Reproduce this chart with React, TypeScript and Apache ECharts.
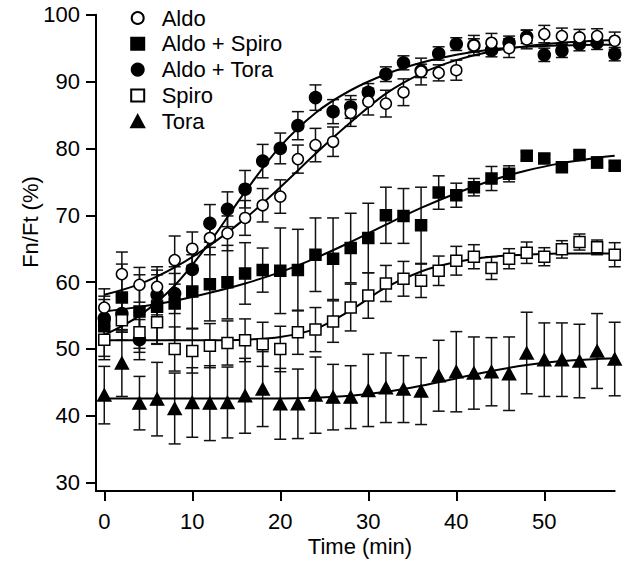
import React, { useEffect, useRef } from "react";
import * as echarts from "echarts";

const FONT = "'Liberation Sans', Arial, Helvetica, sans-serif";

// Time points (min)
const times = [0, 2, 4, 6, 8, 10, 12, 14, 16, 18, 20, 22, 24, 26, 28, 30, 32, 34, 36, 38, 40, 42, 44, 46, 48, 50, 52, 54, 56, 58];

// Mean values (Fn/Ft %)
const aldo = [56.2, 61.2, 59.6, 59.3, 63.3, 65.0, 66.6, 67.3, 69.6, 71.5, 72.8, 78.4, 80.5, 81.0, 85.3, 87.0, 86.7, 88.4, 91.5, 91.3, 91.7, 95.4, 95.8, 95.0, 96.3, 97.1, 96.8, 96.6, 96.8, 96.1];
const aldoSpiro = [53.4, 57.7, 55.6, 56.3, 56.8, 58.6, 59.7, 60.0, 61.3, 61.8, 61.7, 61.8, 64.1, 63.5, 65.1, 66.6, 70.0, 69.9, 68.5, 73.4, 73.0, 74.2, 75.5, 76.2, 78.9, 78.5, 77.2, 79.0, 77.9, 77.4];
const aldoTora = [54.6, 55.3, 51.4, 58.1, 58.3, 61.9, 68.8, 70.9, 73.9, 78.1, 80.0, 83.4, 87.6, 85.5, 86.2, 88.4, 91.1, 92.8, 91.6, 94.2, 95.6, 95.4, 94.7, 95.8, 96.7, 94.0, 94.6, 95.6, 95.8, 94.1];
const spiro = [51.4, 54.3, 52.5, 54.0, 50.0, 49.7, 50.5, 50.9, 51.3, 50.7, 50.0, 52.5, 52.9, 54.1, 56.2, 58.0, 59.8, 60.5, 60.2, 61.7, 63.2, 63.8, 62.1, 63.5, 64.4, 63.8, 64.9, 66.0, 65.2, 64.1];
const tora = [43.1, 47.9, 41.9, 42.5, 41.1, 42.0, 41.9, 42.0, 43.0, 44.0, 41.8, 41.8, 43.1, 42.8, 42.8, 43.8, 44.2, 44.0, 43.7, 46.0, 46.6, 46.4, 46.6, 46.3, 49.4, 48.4, 48.4, 48.2, 49.7, 48.5];

// Error magnitudes (±)
const aldoErr = [2.8, 3.3, 2.6, 3.0, 3.6, 2.5, 2.5, 2.6, 2.6, 2.5, 2.5, 2.1, 2.5, 2.2, 2.0, 2.0, 2.0, 2.0, 2.0, 1.2, 1.5, 1.5, 1.4, 1.4, 1.4, 1.3, 1.2, 1.2, 1.1, 1.3];
const aldoSpiroErr = [4.5, 5.0, 5.5, 5.5, 5.5, 5.5, 5.5, 5.5, 4.6, 3.3, 6.4, 6.1, 5.5, 6.1, 5.2, 5.2, 4.2, 4.1, 5.7, 2.5, 1.8, 1.3, 1.8, 1.2, 0.6, 0.6, 0.6, 0.5, 0.8, 0.5];
const aldoToraErr = [2.8, 2.8, 3.0, 3.0, 3.0, 2.8, 2.8, 2.6, 2.8, 2.5, 2.3, 2.1, 1.9, 1.8, 1.7, 1.3, 1.1, 1.05, 1.0, 1.0, 0.95, 1.0, 1.0, 1.0, 1.0, 1.0, 1.0, 1.0, 1.0, 1.0];
const spiroErr = [3.0, 3.0, 3.0, 3.3, 3.3, 3.3, 3.3, 3.3, 3.2, 3.3, 3.4, 3.3, 3.3, 3.1, 3.5, 3.4, 2.7, 2.6, 2.5, 2.2, 2.15, 1.8, 1.7, 1.5, 1.6, 1.35, 1.3, 1.2, 1.1, 1.8];
const toraErr = [4.3, 5.0, 4.0, 5.5, 5.3, 5.2, 5.6, 5.3, 5.6, 5.6, 5.3, 5.2, 5.7, 4.9, 4.7, 5.4, 5.2, 5.0, 5.0, 5.3, 6.0, 5.4, 5.1, 5.5, 6.1, 5.5, 5.5, 5.5, 5.6, 5.5];

// Fitted curves
const fitTimes = [0, 4, 8, 12, 16, 20, 24, 28, 32, 36, 40, 44, 48, 52, 56, 58];
const aldoFit = [58.1, 59.7, 62.2, 65.5, 69.5, 74.2, 79.2, 83.9, 88.2, 91.2, 93.2, 94.5, 95.3, 95.8, 96.1, 96.2];
const aldoToraFit = [52.1, 55.0, 59.5, 66.0, 73.5, 80.3, 85.3, 88.7, 91.1, 92.8, 94.0, 94.8, 95.2, 95.4, 95.5, 95.5];
const aldoSpiroFit = [55.6, 56.3, 57.2, 58.4, 59.8, 61.5, 63.6, 66.0, 68.6, 71.1, 73.3, 75.2, 76.7, 77.8, 78.6, 78.9];
const spiroFit = [51.3, 51.3, 51.3, 51.3, 51.4, 51.8, 53.0, 55.8, 59.2, 61.6, 63.0, 63.8, 64.1, 64.3, 64.3, 64.3];
const toraFit = [42.6, 42.6, 42.6, 42.6, 42.6, 42.6, 42.7, 43.0, 43.6, 44.5, 45.6, 46.7, 47.6, 48.2, 48.5, 48.6];

const xTicks = [0, 10, 20, 30, 40, 50];
const yTicks = [30, 40, 50, 60, 70, 80, 90, 100];

type SeriesDef = {
  name: string;
  values: number[];
  err: number[];
  fit: number[];
  symbol: string;
  size: number | number[];
  fill: string;
};

const defs: SeriesDef[] = [
  { name: "Tora", values: tora, err: toraErr, fit: toraFit, symbol: "triangle", size: [13, 12], fill: "#000" },
  { name: "Aldo + Tora", values: aldoTora, err: aldoToraErr, fit: aldoToraFit, symbol: "circle", size: 12, fill: "#000" },
  { name: "Aldo + Spiro", values: aldoSpiro, err: aldoSpiroErr, fit: aldoSpiroFit, symbol: "rect", size: 11, fill: "#000" },
  { name: "Spiro", values: spiro, err: spiroErr, fit: spiroFit, symbol: "rect", size: 11, fill: "#fff" },
  { name: "Aldo", values: aldo, err: aldoErr, fit: aldoFit, symbol: "circle", size: 11, fill: "#fff" },
];

const CAP = 6;

function renderErrorBar(params: any, api: any) {
  const x = api.value(0);
  const lo = api.coord([x, api.value(1)]);
  const hi = api.coord([x, api.value(2)]);
  const style = { stroke: "#111", lineWidth: 1.5, fill: null };
  return {
    type: "group",
    children: [
      { type: "line", shape: { x1: lo[0], y1: lo[1], x2: hi[0], y2: hi[1] }, style },
      { type: "line", shape: { x1: lo[0] - CAP, y1: lo[1], x2: lo[0] + CAP, y2: lo[1] }, style },
      { type: "line", shape: { x1: hi[0] - CAP, y1: hi[1], x2: hi[0] + CAP, y2: hi[1] }, style },
    ],
  };
}

export default function App() {
  const ref = useRef<HTMLDivElement>(null);

  useEffect(() => {
    if (!ref.current) return;
    const chart = echarts.init(ref.current, null, { renderer: "svg" });

    const series: any[] = [];
    defs.forEach((d) => {
      series.push({
        name: d.name + " err",
        type: "custom",
        renderItem: renderErrorBar,
        data: times.map((t, i) => [t, d.values[i] - d.err[i], d.values[i] + d.err[i]]),
        encode: { x: 0, y: [1, 2] },
        z: 1,
        silent: true,
        clip: false,
      });
    });
    defs.forEach((d) => {
      series.push({
        name: d.name + " fit",
        type: "line",
        data: fitTimes.map((t, i) => [t, d.fit[i]]),
        showSymbol: false,
        smooth: 0.35,
        lineStyle: { color: "#000", width: 2 },
        z: 2,
        silent: true,
      });
    });
    defs.forEach((d) => {
      series.push({
        name: d.name,
        type: "scatter",
        data: times.map((t, i) => [t, d.values[i]]),
        symbol: d.symbol,
        symbolSize: d.size,
        itemStyle: { color: d.fill, borderColor: "#000", borderWidth: 1.5, opacity: 1 },
        z: 3,
        silent: true,
        clip: false,
      });
    });

    chart.setOption({
      animation: false,
      backgroundColor: "#fff",
      grid: { left: 96, top: 14.7, right: 13.3, bottom: 74, containLabel: false },
      xAxis: {
        type: "value",
        min: -0.94,
        max: 58,
        axisLine: { show: true, onZero: false, lineStyle: { color: "#000", width: 2 } },
        axisTick: { show: true, customValues: xTicks, length: 10, lineStyle: { color: "#000", width: 2 } },
        axisLabel: { customValues: xTicks, fontSize: 22, color: "#000", fontFamily: FONT, margin: 19 },
        splitLine: { show: false },
      },
      yAxis: {
        type: "value",
        min: 28.76,
        max: 100,
        axisLine: { show: true, onZero: false, lineStyle: { color: "#000", width: 2 } },
        axisTick: { show: true, customValues: yTicks, length: 10, lineStyle: { color: "#000", width: 2 } },
        axisLabel: { customValues: yTicks, fontSize: 22, color: "#000", fontFamily: FONT, margin: 16 },
        splitLine: { show: false },
      },
      legend: {
        orient: "vertical",
        left: 130.2,
        top: 7,
        padding: 0,
        itemWidth: 13,
        itemHeight: 12,
        itemGap: 3.8,
        selectedMode: false,
        data: ["Aldo", "Aldo + Spiro", "Aldo + Tora", "Spiro", "Tora"],
        textStyle: { fontSize: 22, fontFamily: FONT, color: "#000", lineHeight: 22, padding: [0, 0, 0, 12.5] },
      },
      graphic: [
        {
          type: "text",
          x: 360,
          y: 546,
          style: {
            text: "Time (min)",
            font: "22px " + FONT,
            fill: "#000",
            textAlign: "center",
            textVerticalAlign: "middle",
            align: "center",
            verticalAlign: "middle",
          },
        },
        {
          type: "text",
          x: 30,
          y: 222,
          rotation: Math.PI / 2,
          style: {
            text: "Fn/Ft (%)",
            font: "22px " + FONT,
            fill: "#000",
            textAlign: "center",
            textVerticalAlign: "middle",
            align: "center",
            verticalAlign: "middle",
          },
        },
      ],
      series,
    });

    return () => chart.dispose();
  }, []);

  return <div ref={ref} style={{ position: "fixed", left: 0, top: 0, width: 628, height: 565 }} />;
}
